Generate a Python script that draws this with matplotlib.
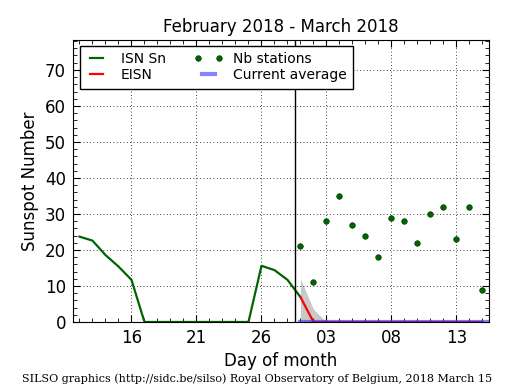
import matplotlib.pyplot as plt
import numpy as np
from matplotlib.legend_handler import HandlerLine2D
from matplotlib.ticker import MultipleLocator

# days counted from 2018 Feb 12
isn_days = list(range(0, 18))
isn_values = [23.7, 22.6, 18.6, 15.4, 11.7, 0, 0, 0, 0, 0, 0, 0, 0, 0,
              15.6, 14.4, 11.7, 6.9]

eisn_days = list(range(17, 32))
eisn_values = [6.9] + [0] * 14

band_days = [17, 18, 19]
band_low = [0, 0, 0]
band_high = [12.0, 3.5, 0]

avg_days = [17, 31.5]
avg_values = [0, 0]

nb_days = list(range(17, 32))
nb_values = [21, 11, 28, 35, 27, 24, 18, 29, 28, 22, 30, 32, 23, 32, 9]

tick_days = [4, 9, 14, 19, 24, 29]
tick_labels = ["16", "21", "26", "03", "08", "13"]

now_day = 16.6

fig = plt.figure(figsize=(5.15, 3.9), dpi=100)
ax = fig.add_axes([0.1417, 0.1744, 0.8078, 0.723])

ax.fill_between(band_days, band_low, band_high, color="#c8c8c8", lw=0)
ax.plot(isn_days, isn_values, color="#006400", lw=1.6, label="ISN Sn")
ax.plot(eisn_days, eisn_values, color="red", lw=1.6, label="EISN")
(nb_line,) = ax.plot(nb_days, nb_values, "o", color="#006400", ms=4,
                     mec="#004000", mew=0.5, label="Nb stations")
ax.plot(avg_days, avg_values, color="#3333ff", alpha=0.6, lw=3,
        label="Current average")
ax.axvline(now_day, color="black", lw=1)

ax.set_xlim(-0.5, 31.5)
ax.set_ylim(0, 78.3)
ax.set_xticks(tick_days)
ax.set_xticklabels(tick_labels)
ax.xaxis.set_minor_locator(MultipleLocator(1))
ax.yaxis.set_major_locator(MultipleLocator(10))
ax.yaxis.set_minor_locator(MultipleLocator(2))
ax.tick_params(which="both", direction="in", top=True, right=True,
               labelsize=12, pad=5)
ax.tick_params(which="major", length=5)
ax.tick_params(which="minor", length=3)
ax.grid(True, which="major", color="black", linestyle=(0, (1, 3)), lw=0.6)

ax.set_title("February 2018 - March 2018", fontsize=12)
ax.set_xlabel("Day of month", fontsize=12)
ax.set_ylabel("Sunspot Number", fontsize=12)

leg = ax.legend(loc="upper left", ncol=2, fontsize=10, numpoints=2,
                fancybox=False, framealpha=1, edgecolor="black",
                handlelength=1.5, handletextpad=1.0, columnspacing=2.3,
                labelspacing=0.15, borderpad=0.45, borderaxespad=0,
                bbox_to_anchor=(0.017, 0.979),
                handler_map={nb_line: HandlerLine2D(marker_pad=0)})
leg.get_frame().set_linewidth(1)

fig.text(0.5, 0.02, "SILSO graphics (http://sidc.be/silso) Royal Observatory of Belgium, 2018 March 15",
         ha="center", fontsize=8, family="DejaVu Serif")

fig.savefig("out.png", dpi=100)
